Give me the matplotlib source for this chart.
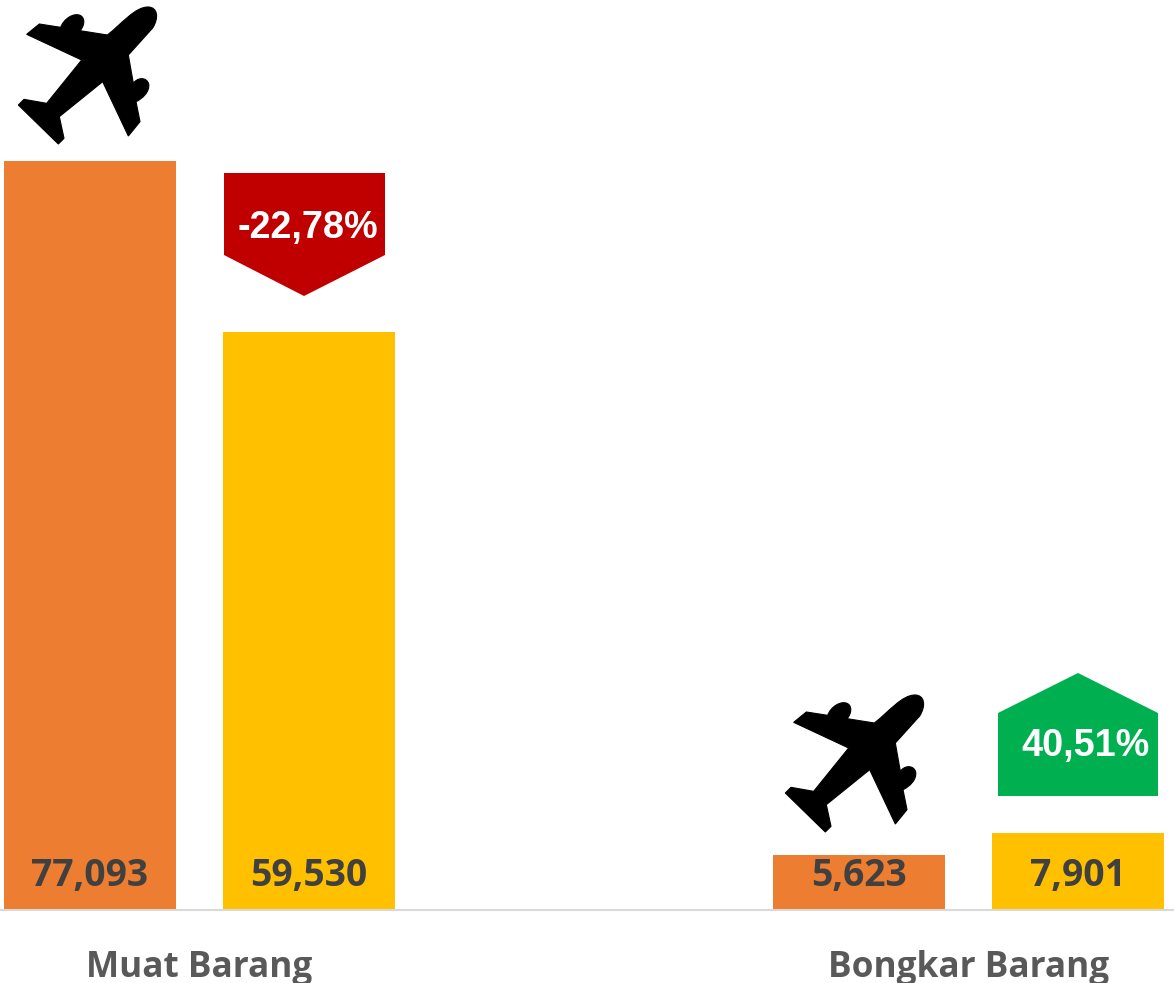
import numpy as np
import matplotlib
matplotlib.use("Agg")
import matplotlib.pyplot as plt
from matplotlib.path import Path
from matplotlib.patches import PathPatch, Polygon

categories = ["Muat Barang", "Bongkar Barang"]
series_a = [77093, 5623]
series_b = [59530, 7901]
change_labels = ["-22,78%", "40,51%"]

ORANGE = "#ED7D31"
YELLOW = "#FFC000"
RED = "#C00000"
GREEN = "#00B050"

W, H = 1174, 983
BASE_Y = 909.5
PX_PER_UNIT = 748.5 / 77093


def plane_path(dx, dy):
    # outline traced in 3x zoom pixels
    verts = [
        (80, 103), (118, 72), (182, 82),
        (192, 55), (222, 38), (240, 46),
        (258, 54), (252, 80), (240, 92),
        (322, 105),
        (365, 72), (405, 20), (445, 21),
        (472, 22), (478, 52), (458, 84),
        (385, 165), (400, 250),
        (412, 232), (440, 230), (446, 252),
        (450, 274), (428, 296), (408, 305),
        (420, 365), (385, 408), (308, 245), (178, 350), (192, 415),
        (175, 432), (55, 315), (72, 298), (140, 310), (245, 180), (80, 103),
    ]
    codes = [Path.MOVETO, Path.LINETO, Path.LINETO,
             Path.CURVE4, Path.CURVE4, Path.CURVE4,
             Path.CURVE4, Path.CURVE4, Path.CURVE4,
             Path.LINETO,
             Path.CURVE4, Path.CURVE4, Path.CURVE4,
             Path.CURVE4, Path.CURVE4, Path.CURVE4,
             Path.LINETO, Path.LINETO,
             Path.CURVE4, Path.CURVE4, Path.CURVE4,
             Path.CURVE4, Path.CURVE4, Path.CURVE4,
             Path.LINETO, Path.LINETO, Path.LINETO, Path.LINETO, Path.LINETO,
             Path.LINETO, Path.LINETO, Path.LINETO, Path.LINETO, Path.LINETO, Path.CLOSEPOLY]
    pts = np.array(verts, dtype=float) / 3 + [dx, dy]
    return Path(pts, codes)


fig = plt.figure(figsize=(W / 100, H / 100), dpi=100)
fig.patch.set_facecolor("white")

ax = fig.add_axes([0, (H - BASE_Y) / H, 1, BASE_Y / H])
x = np.arange(len(categories))
ax.bar(x - 0.1424, series_a, 0.2237, color=ORANGE)
ax.bar(x + 0.1424, series_b, 0.2237, color=YELLOW)
ax.set_xlim(-199.5 / 769, (W - 199.5) / 769)
ax.set_ylim(0, BASE_Y / PX_PER_UNIT)

for i in x:
    ax.text(i - 0.1424, 3400, f"{series_a[i]:,}", ha="center", va="center",
            family="Open Sans", weight="bold", fontsize=26.8, color="#404040")
    ax.text(i + 0.1424, 3400, f"{series_b[i]:,}", ha="center", va="center",
            family="Open Sans", weight="bold", fontsize=26.8, color="#404040")

for s in ["top", "left", "right"]:
    ax.spines[s].set_visible(False)
ax.spines["bottom"].set_color("#D9D9D9")
ax.spines["bottom"].set_linewidth(1.5)
ax.set_yticks([])
ax.set_xticks(x)
ax.set_xticklabels(categories, family="Open Sans", weight="bold", fontsize=25.4, color="#595959")
ax.tick_params(axis="x", length=0, pad=29)

# overlay in picture pixels for the planes and arrows
ov = fig.add_axes([0, 0, 1, 1])
ov.set_xlim(0, W)
ov.set_ylim(H, 0)
ov.axis("off")
ov.patch.set_alpha(0)

ov.add_patch(PathPatch(plane_path(0, 0), fc="black", ec="black", lw=0.8))
ov.add_patch(PathPatch(plane_path(767, 688), fc="black", ec="black", lw=0.8))

ov.add_patch(Polygon([(224, 173), (385, 173), (385, 255), (304, 296), (224, 255)], fc=RED, ec="none"))
ov.add_patch(Polygon([(998, 796), (1158, 796), (1158, 713), (1078, 673), (998, 713)], fc=GREEN, ec="none"))
ov.text(308, 227.5, change_labels[0], ha="center", va="center", family="Liberation Sans",
        weight="bold", fontsize=27.2, color="white")
ov.text(1085, 746.5, change_labels[1], ha="center", va="center", family="Liberation Sans",
        weight="bold", fontsize=27.2, color="white")

fig.savefig("out.png", dpi=100)
